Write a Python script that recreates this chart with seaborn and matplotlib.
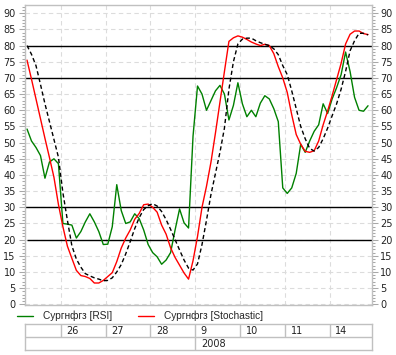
import numpy as np
import pandas as pd
import matplotlib
matplotlib.use('Agg')
import matplotlib.pyplot as plt
from matplotlib.ticker import MultipleLocator, FixedLocator
import seaborn as sns

# trading days shown and number of hourly bars in each
days = ['25', '26', '27', '28', '9', '10', '11', '14']
bars_per_day = [8, 10, 10, 10, 10, 10, 10, 9]
day_labels = ['', '26', '27', '28', '9', '10', '11', '14']
year_labels = ['', '2008']
year_first_day = [0, 4]

rsi = [54.2, 50.5, 48.5, 46.0, 39.0, 44.0, 45.0, 43.5, 25.0, 24.8,
       24.5, 20.5, 22.5, 25.5, 28.0, 25.5, 22.5, 18.5, 18.6, 24.0,
       37.0, 29.0, 25.0, 25.5, 28.0, 26.5, 23.0, 18.5, 16.0, 14.7,
       12.4, 13.7, 16.0, 23.0, 29.5, 25.2, 23.6, 52.0, 67.5, 65.0,
       60.0, 63.0, 66.0, 67.7, 65.0, 57.0, 61.5, 68.5, 62.0, 58.0,
       60.0, 58.0, 62.2, 64.5, 63.5, 60.5, 56.5, 36.0, 34.3, 36.0,
       40.5, 49.5, 47.0, 50.5, 53.5, 55.5, 62.0, 59.0, 63.5, 67.0,
       71.0, 78.0, 72.0, 64.0, 60.0, 59.7, 61.4]

stoch = [75.5, 69.6, 63.5, 57.4, 51.3, 45.4, 39.3, 30.9, 24.0, 18.0,
         14.2, 10.5, 8.9, 8.6, 8.0, 6.6, 6.6, 7.4, 8.6, 9.8,
         13.2, 17.4, 20.5, 23.0, 26.3, 28.1, 30.8, 31.0, 30.0, 28.5,
         24.5, 21.7, 17.5, 14.5, 12.1, 9.7, 7.8, 13.5, 21.0, 30.0,
         36.5, 44.0, 53.0, 62.5, 72.0, 81.3, 82.4, 83.0, 82.6, 81.9,
         81.1, 80.5, 80.0, 80.4, 80.0, 77.5, 73.5, 70.0, 65.5, 58.6,
         52.5, 49.5, 47.3, 47.0, 47.5, 50.5, 55.5, 59.8, 64.5, 69.5,
         74.5, 80.5, 83.5, 84.5, 84.5, 83.7, 83.4]

signal = [80.0, 77.3, 73.8, 68.0, 62.0, 56.5, 51.0, 45.5, 34.5, 26.0,
          18.1, 14.0, 11.5, 9.5, 8.8, 8.2, 7.8, 7.3, 7.4, 8.2,
          10.0, 12.3, 15.6, 19.4, 23.4, 26.8, 29.3, 30.5, 31.1, 30.4,
          28.7, 26.2, 23.2, 20.0, 16.8, 13.7, 11.2, 10.6, 12.5, 18.5,
          26.0, 34.0, 40.5, 47.0, 54.5, 66.5, 75.0, 80.5, 82.0, 82.3,
          82.3, 81.5, 80.9, 80.4, 80.0, 79.0, 77.2, 73.8, 71.0, 66.0,
          60.5, 55.0, 51.2, 48.2, 47.4, 48.5, 51.2, 54.5, 58.3, 62.0,
          66.5, 72.0, 78.4, 81.5, 83.8, 83.8, 83.3]

outer_levels = [20, 80]
inner_levels = [30, 70]
names = ['Сургнфгз [RSI]', 'Сургнфгз [Stochastic]']

df = pd.DataFrame({'bar': np.arange(len(rsi)),
                   'day': np.repeat(days, bars_per_day),
                   'rsi': rsi, 'stoch': stoch, 'signal': signal})

day_start = np.concatenate([[0], np.cumsum(bars_per_day)[:-1]]) - 0.5

sns.set_style('white')
plt.rcParams['font.family'] = ['DejaVu Sans']

fig = plt.figure(figsize=(3.96, 3.55), dpi=100)
W, H = 396, 355
ax = fig.add_axes([24.5 / W, 1 - 305 / H, 347.2 / W, 300.5 / H])

gridc = '#dcdcdc'
edge = '#c0c0c0'

sns.lineplot(data=df, x='bar', y='rsi', color='#008000', lw=1, ax=ax, label=names[0])
sns.lineplot(data=df, x='bar', y='stoch', color='#ff0000', lw=1, ax=ax, label=names[1])
sns.lineplot(data=df, x='bar', y='signal', color='black', lw=1, ax=ax)
ax.lines[-1].set_dashes([3, 2])

for v in inner_levels:
    ax.axhline(v, color='black', lw=1, zorder=1.5)
ax.hlines(outer_levels, 0, len(rsi), color='black', lw=1, zorder=1.5)

ax.set_xlim(-0.56, 76.82)
ax.set_ylim(-0.2, 92.7)
ax.set_xlabel('')
ax.set_ylabel('')

ax.xaxis.set_major_locator(FixedLocator(day_start[1:]))
ax.yaxis.set_major_locator(MultipleLocator(5))
ax.yaxis.set_minor_locator(MultipleLocator(1))
ax.grid(True, which='major', color=gridc, linestyle=(0, (4, 3)), lw=0.8)
ax.set_axisbelow(True)

ax.tick_params(axis='x', length=0, labelbottom=False)
ax.tick_params(axis='y', which='both', left=True, right=True,
               labelleft=True, labelright=True, colors='#a8a8a8',
               labelcolor='#222222', labelsize=7, width=0.75, pad=2)
ax.tick_params(axis='y', which='major', length=4.3)
ax.tick_params(axis='y', which='minor', length=2.2)
for s in ax.spines.values():
    s.set_color(edge)
    s.set_linewidth(1)

h, l = ax.get_legend_handles_labels()
if ax.get_legend():
    ax.get_legend().remove()
fig.legend(h, l, loc='center left', bbox_to_anchor=(17 / W, 1 - 316 / H),
           ncol=2, frameon=False, prop={'family': 'Liberation Sans', 'size': 7.3},
           handlelength=1.6, handletextpad=1.0, columnspacing=2.5,
           borderpad=0, borderaxespad=0)

# date table under the chart
tax = fig.add_axes([24.5 / W, 1 - 350.3 / H, 347.2 / W, 26 / H])
tax.set_xlim(ax.get_xlim())
tax.set_ylim(0, 2)
tax.set_xticks([])
tax.set_yticks([])
for s in tax.spines.values():
    s.set_color(edge)
    s.set_linewidth(1)
tax.axhline(1, color=edge, lw=1)
tax.vlines(day_start[1:], 1, 2, color=edge, lw=1)
for x0, lab in zip(day_start, day_labels):
    tax.annotate(lab, (x0, 1.5), xytext=(4, 0), textcoords='offset points',
                 va='center', ha='left', fontsize=7, color='#222222')
year_x = day_start[year_first_day]
tax.vlines(year_x[1:], 0, 1, color=edge, lw=1)
for x0, lab in zip(year_x, year_labels):
    tax.annotate(lab, (x0, 0.5), xytext=(4, 0), textcoords='offset points',
                 va='center', ha='left', fontsize=7, color='#222222')

fig.savefig('out.png', dpi=100)
